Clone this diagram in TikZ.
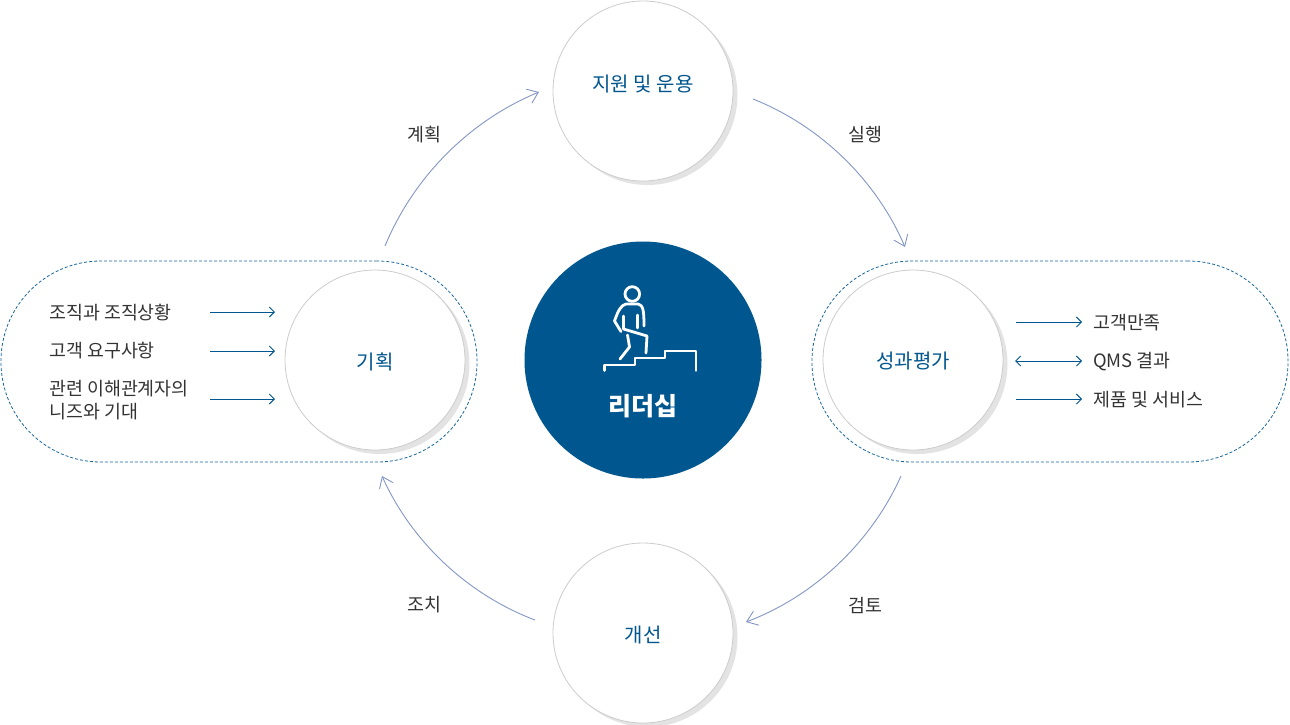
\documentclass[tikz,border=0pt]{standalone}
\usepackage{fontspec}
\setmainfont{Noto Sans CJK KR}
\usetikzlibrary{arrows.meta}
\usetikzlibrary{shadows}
\definecolor{navy}{HTML}{00568F}
\definecolor{flow}{HTML}{8296C4}
\tikzstyle{stage} = [draw=gray!40, line width=0.8pt, fill=white, circle, inner sep=0pt, minimum size=180pt,
    drop shadow={shadow xshift=4.5pt, shadow yshift=-4pt, fill=gray!22, opacity=1}]
\tikzstyle{stagetext} = [text=navy, font=\fontsize{20}{24}\selectfont, inner sep=0pt]
\tikzstyle{pill} = [draw=navy!90, line width=0.8pt, dash pattern=on 3pt off 2pt, rectangle, rounded corners=100pt,
    minimum width=476pt, minimum height=201pt, inner sep=0pt]
\tikzstyle{core} = [fill=navy, circle, inner sep=0pt, minimum size=237pt]
\tikzstyle{label} = [text=black!80, font=\fontsize{18.4}{24}\selectfont, inner sep=0pt]
\tikzstyle{item} = [label, anchor=west, align=left]
\tikzstyle{input} = [coordinate]
\tikzstyle{cycle} = [draw=flow, line width=0.9pt, -{Straight Barb[length=10pt,width=15pt,line width=0.9pt]}]
\tikzstyle{link} = [draw=navy, line width=0.9pt, -{Straight Barb[length=5pt,width=10pt,line width=0.9pt]}]
\tikzstyle{twolink} = [link, {Straight Barb[length=5pt,width=10pt,line width=0.9pt]}-{Straight Barb[length=5pt,width=10pt,line width=0.9pt]}]
\tikzstyle{icon} = [draw=white, line width=2.8pt, line join=round, line cap=round]
\begin{document}
\begin{tikzpicture}[x=1pt,y=-1pt]
    \useasboundingbox (0,0) rectangle (1290,724);
    \node [pill] at (239,361.5) (leftpill) {};
    \node [pill] at (1050,361.5) (rightpill) {};
    \node [stage] at (643,91) (support) {};
    \node [stage] at (375,360) (plan) {};
    \node [stage] at (913,360) (eval) {};
    \node [stage] at (643,633) (improve) {};
    \node [stagetext] at (643,84.5) (supporttext) {지원 및 운용};
    \node [stagetext] at (375,361.5) (plantext) {기획};
    \node [stagetext] at (913,361.5) (evaltext) {성과평가};
    \node [stagetext] at (643,634.5) (improvetext) {개선};
    \node [core] at (643,360) (lead) {};
    \node [font=\fontsize{25}{28}\selectfont\bfseries, text=white] at (643,406) (leadtext) {리더십};
    % icon
    \draw [icon] (632.3,294) circle (7.3pt);
    \draw [icon] (621,331.5) -- (614.5,321) .. controls (618,311) and (621,305) .. (626,304) -- (638,304) .. controls (643,305) and (644,310) .. (644,326);
    \draw [icon] (623.5,316) -- (623.5,329) -- (647,336) -- (646,353);
    \draw [icon] (637.5,315) -- (637.5,328);
    \draw [icon] (627.5,335) -- (629.5,347) -- (620,359);
    \draw [icon] (604.5,370.5) -- (604.5,365) -- (635,365) -- (635,358) -- (665,358) -- (665,351) -- (696,351) -- (696,370.5);
    % cycle
    \node [input] at (385,246) (c1) {};
    \node [input] at (539,92) (c2) {};
    \node [input] at (753,99) (c3) {};
    \node [input] at (905,247) (c4) {};
    \node [input] at (901,476) (c5) {};
    \node [input] at (746,622) (c6) {};
    \node [input] at (535,620) (c7) {};
    \node [input] at (382,476) (c8) {};
    \draw [cycle] (c1) to[bend left=22.5, looseness=0.88] (c2);
    \draw [cycle] (c3) to[bend left=22.5, looseness=0.88] (c4);
    \draw [cycle] (c5) to[bend left=22.5, looseness=0.88] (c6);
    \draw [cycle] (c7) to[bend left=22.5, looseness=0.88] (c8);
    \node [label] at (424,135) (l1) {계획};
    \node [label] at (865,135) (l2) {실행};
    \node [label] at (865,605) (l3) {검토};
    \node [label] at (424,605) (l4) {조치};
    % left items
    \node [item] at (49,313) (in1) {조직과 조직상황};
    \node [item] at (49,351) (in2) {고객 요구사항};
    \node [item] at (49,400) (in3) {관련 이해관계자의\\[-1pt]니즈와 기대};
    \node [input] at (210,312) (a1) {};
    \node [input] at (275,312) (b1) {};
    \node [input] at (210,351) (a2) {};
    \node [input] at (275,351) (b2) {};
    \node [input] at (210,399) (a3) {};
    \node [input] at (275,399) (b3) {};
    \draw [link] (a1) -- (b1);
    \draw [link] (a2) -- (b2);
    \draw [link] (a3) -- (b3);
    % right items
    \node [item] at (1093,323) (out1) {고객만족};
    \node [item] at (1093,362) (out2) {QMS 결과};
    \node [item] at (1093,400) (out3) {제품 및 서비스};
    \node [input] at (1016,322) (d1) {};
    \node [input] at (1082,322) (e1) {};
    \node [input] at (1015,361) (d2) {};
    \node [input] at (1082,361) (e2) {};
    \node [input] at (1016,399) (d3) {};
    \node [input] at (1082,399) (e3) {};
    \draw [link] (d1) -- (e1);
    \draw [twolink] (d2) -- (e2);
    \draw [link] (d3) -- (e3);
\end{tikzpicture}
\end{document}
